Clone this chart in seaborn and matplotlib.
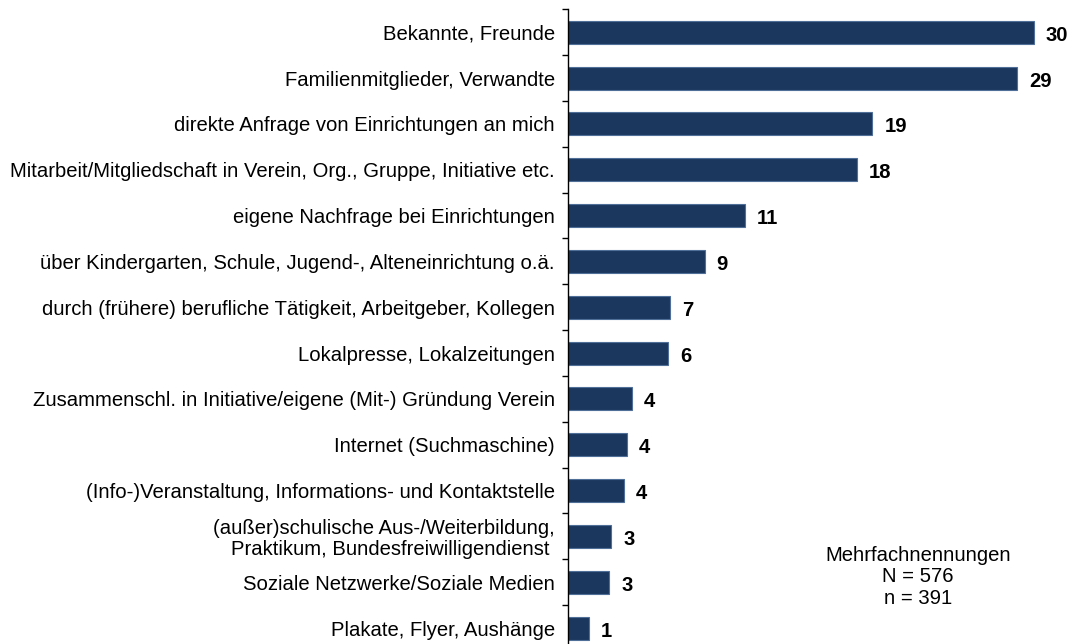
import matplotlib
matplotlib.use("Agg")
import matplotlib.pyplot as plt
import seaborn as sns
import pandas as pd
import numpy as np

categories = [
    "Bekannte, Freunde",
    "Familienmitglieder, Verwandte",
    "direkte Anfrage von Einrichtungen an mich",
    "Mitarbeit/Mitgliedschaft in Verein, Org., Gruppe, Initiative etc.",
    "eigene Nachfrage bei Einrichtungen",
    "über Kindergarten, Schule, Jugend-, Alteneinrichtung o.ä.",
    "durch (frühere) berufliche Tätigkeit, Arbeitgeber, Kollegen",
    "Lokalpresse, Lokalzeitungen",
    "Zusammenschl. in Initiative/eigene (Mit-) Gründung Verein",
    "Internet (Suchmaschine)",
    "(Info-)Veranstaltung, Informations- und Kontaktstelle",
    "(außer)schulische Aus-/Weiterbildung,\nPraktikum, Bundesfreiwilligendienst ",
    "Soziale Netzwerke/Soziale Medien",
    "Plakate, Flyer, Aushänge",
]
values = [30.0, 28.9, 19.6, 18.6, 11.4, 8.8, 6.6, 6.45, 4.1, 3.8, 3.6, 2.8, 2.65, 1.35]
value_labels = ["30", "29", "19", "18", "11", "9", "7", "6", "4", "4", "4", "3", "3", "1"]
note_lines = ["Mehrfachnennungen", "N = 576", "n = 391"]

sns.set_style("ticks")
plt.rcParams["font.family"] = ["Liberation Sans", "DejaVu Sans"]

df = pd.DataFrame({"Kategorie": categories, "Wert": values})

fig = plt.figure(figsize=(10.75, 6.44), dpi=100)
ax = fig.add_axes([568 / 1075, 1 - 651 / 644, 1 - 568 / 1075, (651 - 9.3) / 644])

sns.barplot(data=df, y="Kategorie", x="Wert", orient="h", color="#1C375E",
            width=0.5, edgecolor="#4f6f99", linewidth=0.8, saturation=1, ax=ax)

ax.set_xlim(0, 32.65)
ax.set_ylim(len(categories) - 0.5, -0.5)
ax.set_xlabel("")
ax.set_ylabel("")
ax.set_xticks([])

for s in ["top", "right", "bottom"]:
    ax.spines[s].set_visible(False)
ax.spines["left"].set_color("black")
ax.spines["left"].set_linewidth(1.0)

ax.set_yticks(np.arange(len(categories)))
ax.set_yticklabels(categories, fontsize=14.6, color="black")
ax.tick_params(axis="y", which="major", left=True, length=0, pad=9.5)
ax.set_yticks(np.arange(-0.5, len(categories), 1.0), minor=True)
ax.tick_params(axis="y", which="minor", left=True, length=4.5, width=1.0,
               color="black", direction="out")
for lbl in ax.get_yticklabels():
    lbl.set_multialignment("right")
    lbl.set_linespacing(1.1)

for i, (v, t) in enumerate(zip(values, value_labels)):
    ax.annotate(t, xy=(v, i), xytext=(12, -3), textcoords="offset pixels",
                va="center", ha="left", fontsize=14.6, fontweight="bold", color="black")

fig.text(918 / 1075, 1 - 577 / 644, "\n".join(note_lines), ha="center", va="center",
         fontsize=14.6, linespacing=1.15, color="black")

fig.savefig("out.png", dpi=100)
